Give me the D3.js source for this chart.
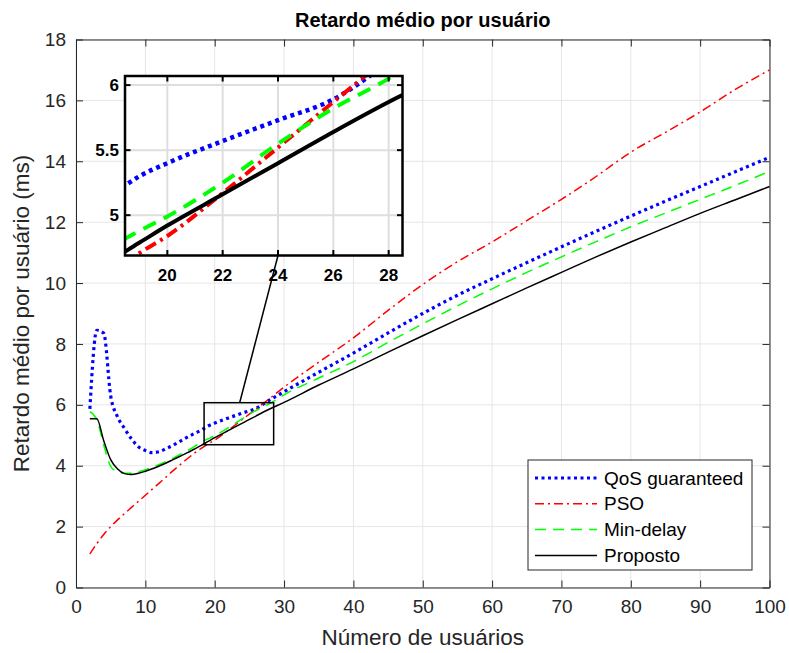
<!DOCTYPE html>
<html>
<head>
<meta charset="utf-8">
<script src="https://cdn.jsdelivr.net/npm/d3@7"></script>
<style>
  body { margin: 0; background: #fff; }
  text { font-family: "Liberation Sans", Arial, sans-serif; }
</style>
</head>
<body>
<svg id="chart" width="789" height="653"></svg>
<script>
// numero de usuarios
var users = [2,3,4,5,6,7,8,9,10,11,12,13,14,15,16,17,18,19,20,22,24,26,28,30,35,40,45,50,55,60,65,70,75,80,85,90,95,100];

var qosGuaranteed = [5.87,8.45,8.35,6.3,5.6,5.22,4.88,4.62,4.5,4.43,4.46,4.56,4.67,4.8,4.93,5.05,5.16,5.3,5.4,5.57,5.73,5.89,6.17,6.43,7.07,7.7,8.36,9.0,9.6,10.14,10.67,11.19,11.7,12.2,12.69,13.17,13.65,14.13];
var pso = [1.1,1.44,1.74,2.0,2.22,2.43,2.63,2.83,3.03,3.23,3.43,3.63,3.84,4.03,4.22,4.4,4.56,4.71,4.84,5.17,5.52,5.87,6.22,6.58,7.4,8.2,9.1,9.95,10.7,11.35,12.05,12.75,13.5,14.3,14.95,15.62,16.35,17.0];
var minDelay = [5.78,5.52,4.68,3.98,3.8,3.75,3.75,3.8,3.87,3.95,4.04,4.14,4.25,4.37,4.49,4.62,4.76,4.88,4.99,5.25,5.55,5.82,6.05,6.33,6.88,7.42,8.05,8.66,9.25,9.81,10.35,10.86,11.36,11.85,12.3,12.75,13.2,13.67];
var proposto = [5.54,5.54,4.82,4.2,3.89,3.74,3.71,3.75,3.82,3.9,3.99,4.09,4.2,4.31,4.42,4.54,4.66,4.79,4.92,5.16,5.4,5.64,5.87,6.08,6.65,7.18,7.73,8.27,8.8,9.32,9.84,10.35,10.86,11.35,11.82,12.29,12.73,13.17];

var seriesNames = ["QoS guaranteed", "PSO", "Min-delay", "Proposto"];
var seriesColors = ["#0000ff", "#ff0000", "#00ff00", "#000000"];

var xTicks = [0,10,20,30,40,50,60,70,80,90,100];
var yTicks = [0,2,4,6,8,10,12,14,16,18];

// zoom region (inset)
var zoomX = [18.47, 28.5];
var zoomY = [4.69, 6.07];
var insetXTicks = [20,22,24,26,28];
var insetYTicks = [5,5.5,6];
var insetYLabels = ["5","5.5","6"];
var connectorX = [23.6, 24];

var allSeries = [qosGuaranteed, pso, minDelay, proposto];

var svg = d3.select("#chart");

var x = d3.scaleLinear().domain([0,100]).range([76,769.5]);
var y = d3.scaleLinear().domain([0,18]).range([587.5,39.5]);

var styles = [
  {dash: "3,3.5", w: 3.2, wi: 4.5, dashi: "4,4"},
  {dash: "9,4,2,4", w: 1.5, wi: 4, dashi: "12,5,3,5"},
  {dash: "11,7", w: 1.5, wi: 4, dashi: "14,9"},
  {dash: null, w: 1.5, wi: 4, dashi: null}
];

// grid
var g = svg.append("g");
g.selectAll(".gx").data(xTicks).enter().append("line")
  .attr("x1", d => x(d)).attr("x2", d => x(d))
  .attr("y1", y(0)).attr("y2", y(18))
  .style("stroke", "#e6e6e6").style("stroke-width", 1);
g.selectAll(".gy").data(yTicks).enter().append("line")
  .attr("x1", x(0)).attr("x2", x(100))
  .attr("y1", d => y(d)).attr("y2", d => y(d))
  .style("stroke", "#e6e6e6").style("stroke-width", 1);

// axes
var axB = d3.axisBottom(x).tickValues(xTicks).tickSizeInner(-7).tickSizeOuter(0).tickPadding(12);
var axT = d3.axisTop(x).tickValues(xTicks).tickSizeInner(-7).tickSizeOuter(0).tickFormat("");
var axL = d3.axisLeft(y).tickValues(yTicks).tickSizeInner(-7).tickSizeOuter(0).tickPadding(10);
var axR = d3.axisRight(y).tickValues(yTicks).tickSizeInner(-7).tickSizeOuter(0).tickFormat("");

function styleAxis(sel) {
  sel.selectAll("path").style("stroke", "#262626");
  sel.selectAll("line").style("stroke", "#262626");
  sel.selectAll("text").style("font-family", "Liberation Sans, Arial, sans-serif")
    .style("font-size", "19px").style("fill", "#262626");
}
svg.append("g").attr("transform", "translate(0," + y(0) + ")").call(axB).call(styleAxis);
svg.append("g").attr("transform", "translate(0," + y(18) + ")").call(axT).call(styleAxis);
svg.append("g").attr("transform", "translate(" + x(0) + ",0)").call(axL).call(styleAxis);
svg.append("g").attr("transform", "translate(" + x(100) + ",0)").call(axR).call(styleAxis);

// curves
var line = d3.line().x((d, i) => x(users[i])).y(d => y(d)).curve(d3.curveMonotoneX);
allSeries.forEach(function(s, k) {
  svg.append("path").datum(s).attr("d", line)
    .style("fill", "none").style("stroke", seriesColors[k])
    .style("stroke-width", styles[k].w)
    .style("stroke-dasharray", styles[k].dash);
});

// zoom rectangle + connector
svg.append("rect")
  .attr("x", x(zoomX[0])).attr("y", y(zoomY[1]))
  .attr("width", x(zoomX[1]) - x(zoomX[0])).attr("height", y(zoomY[0]) - y(zoomY[1]))
  .style("fill", "none").style("stroke", "#000").style("stroke-width", 1.5);

// inset
var xi = d3.scaleLinear().domain(zoomX).range([125, 402.5]);
var yi = d3.scaleLinear().domain(zoomY).range([255.5, 76]);

svg.append("line")
  .attr("x1", x(connectorX[0])).attr("y1", y(zoomY[1]))
  .attr("x2", xi(connectorX[1])).attr("y2", yi(zoomY[0]))
  .style("stroke", "#000").style("stroke-width", 1.5);

var ins = svg.append("g");
ins.append("rect").attr("x", 125).attr("y", 76).attr("width", 277.5).attr("height", 179.5)
  .style("fill", "#fff");
ins.append("clipPath").attr("id", "clipInset").append("rect")
  .attr("x", 125).attr("y", 76).attr("width", 277.5).attr("height", 179.5);

ins.selectAll(".igx").data(insetXTicks).enter().append("line")
  .attr("x1", d => xi(d)).attr("x2", d => xi(d)).attr("y1", 76).attr("y2", 255.5)
  .style("stroke", "#dedede").style("stroke-width", 2);
ins.selectAll(".igy").data(insetYTicks).enter().append("line")
  .attr("x1", 125).attr("x2", 402.5).attr("y1", d => yi(d)).attr("y2", d => yi(d))
  .style("stroke", "#dedede").style("stroke-width", 2);

var lineI = d3.line().x((d, i) => xi(users[i])).y(d => yi(d)).curve(d3.curveMonotoneX);
var clipG = ins.append("g").attr("clip-path", "url(#clipInset)");
allSeries.forEach(function(s, k) {
  clipG.append("path").datum(s).attr("d", lineI)
    .style("fill", "none").style("stroke", seriesColors[k])
    .style("stroke-width", styles[k].wi)
    .style("stroke-dasharray", styles[k].dashi);
});

// inset ticks on all sides
ins.selectAll(".itb").data(insetXTicks).enter().append("line")
  .attr("x1", d => xi(d)).attr("x2", d => xi(d)).attr("y1", 255.5).attr("y2", 250)
  .style("stroke", "#000").style("stroke-width", 2);
ins.selectAll(".itt").data(insetXTicks).enter().append("line")
  .attr("x1", d => xi(d)).attr("x2", d => xi(d)).attr("y1", 76).attr("y2", 81.5)
  .style("stroke", "#000").style("stroke-width", 2);
ins.selectAll(".itl").data(insetYTicks).enter().append("line")
  .attr("x1", 125).attr("x2", 130.5).attr("y1", d => yi(d)).attr("y2", d => yi(d))
  .style("stroke", "#000").style("stroke-width", 2);
ins.selectAll(".itr").data(insetYTicks).enter().append("line")
  .attr("x1", 402.5).attr("x2", 397).attr("y1", d => yi(d)).attr("y2", d => yi(d))
  .style("stroke", "#000").style("stroke-width", 2);
ins.append("rect").attr("x", 125).attr("y", 76).attr("width", 277.5).attr("height", 179.5)
  .style("fill", "none").style("stroke", "#000").style("stroke-width", 2.5);

ins.selectAll(".ilx").data(insetXTicks).enter().append("text")
  .attr("x", d => xi(d)).attr("y", 281)
  .attr("text-anchor", "middle")
  .style("font-size", "17px").style("font-weight", "bold")
  .text(d => d);
ins.selectAll(".ily").data(insetYTicks).enter().append("text")
  .attr("x", 119).attr("y", d => yi(d) + 6)
  .attr("text-anchor", "end")
  .style("font-size", "17px").style("font-weight", "bold")
  .text((d, i) => insetYLabels[i]);

// legend
var leg = svg.append("g");
leg.append("rect").attr("x", 528).attr("y", 460).attr("width", 224).attr("height", 110)
  .style("fill", "#fff").style("stroke", "#262626").style("stroke-width", 1);
seriesNames.forEach(function(n, k) {
  var ly = 478 + k * 25.8;
  leg.append("line").attr("x1", 535).attr("x2", 597).attr("y1", ly).attr("y2", ly)
    .style("stroke", seriesColors[k]).style("stroke-width", styles[k].w)
    .style("stroke-dasharray", styles[k].dash);
  leg.append("text").attr("x", 604).attr("y", ly + 6.5)
    .style("font-size", "19px").style("fill", "#000").text(n);
});

// titles
svg.append("text").attr("x", (x(0) + x(100)) / 2).attr("y", 27)
  .attr("text-anchor", "middle").style("font-size", "20px").style("font-weight", "bold")
  .text("Retardo médio por usuário");
svg.append("text").attr("x", (x(0) + x(100)) / 2).attr("y", 645)
  .attr("text-anchor", "middle").style("font-size", "22.5px").style("fill", "#262626")
  .text("Número de usuários");
svg.append("text").attr("transform", "translate(29," + ((y(0) + y(18)) / 2) + ") rotate(-90)")
  .attr("text-anchor", "middle").style("font-size", "22.5px").style("fill", "#262626")
  .text("Retardo médio por usuário (ms)");
</script>
</body>
</html>
